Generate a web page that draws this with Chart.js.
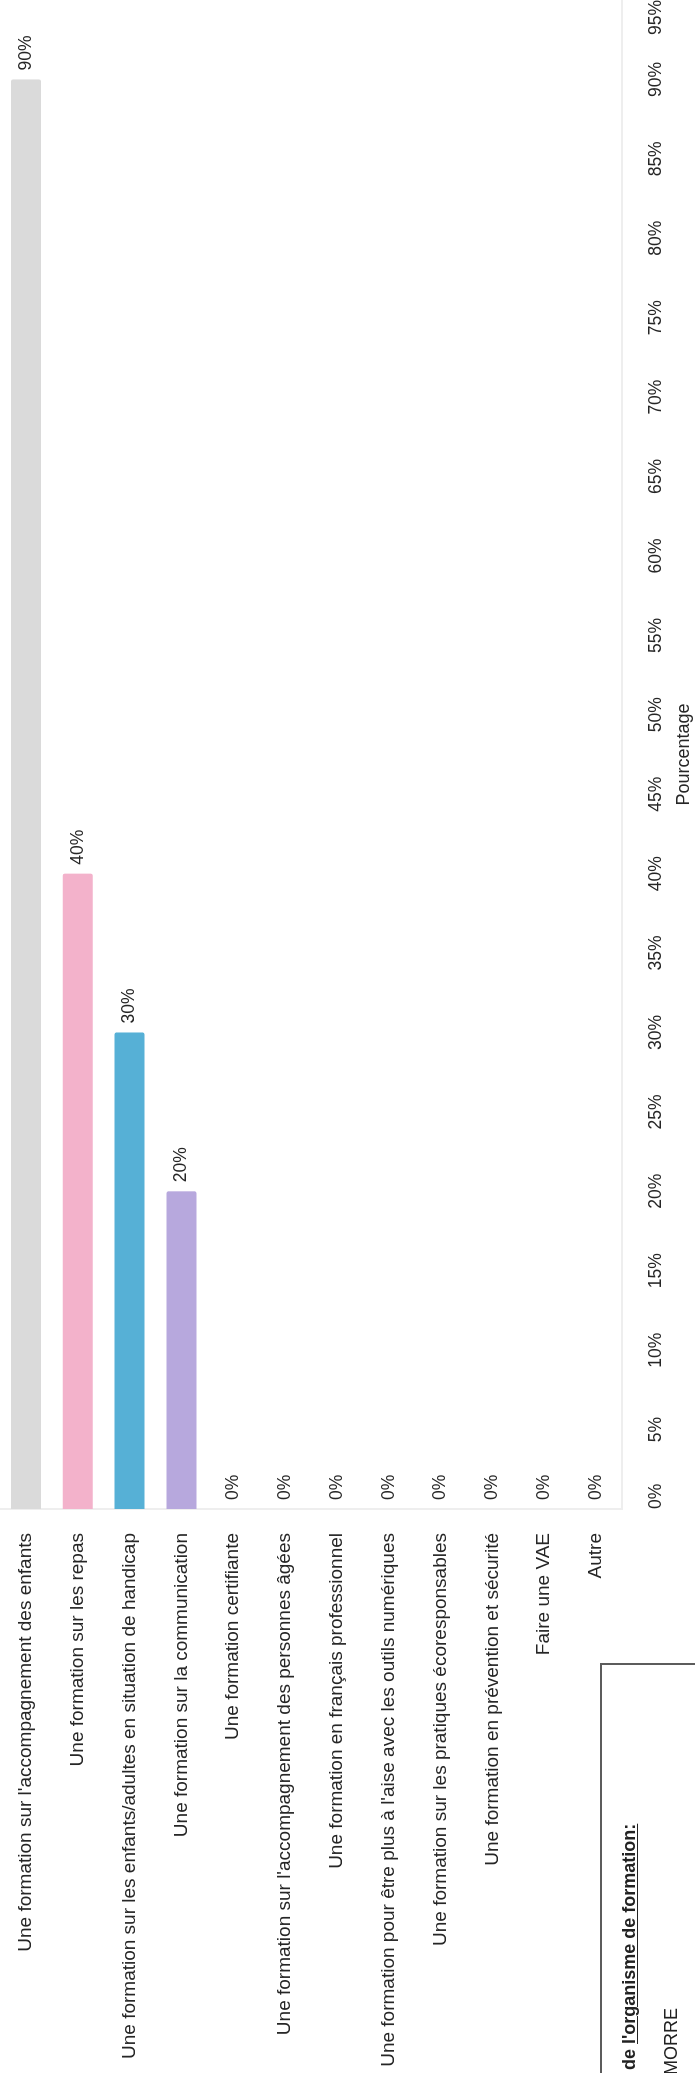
<!DOCTYPE html>
<html lang="fr">
<head>
<meta charset="utf-8">
<title>Formations souhaitées</title>
<script src="https://cdn.jsdelivr.net/npm/chart.js@4.4.1/dist/chart.umd.min.js"></script>
<style>
  html, body { margin: 0; padding: 0; background: #fff; }
  body { width: 695px; height: 2073px; overflow: hidden; position: relative; }
  /* the scanned page is turned a quarter to the left */
  #page {
    position: absolute; left: 0; top: 0; width: 2073px; height: 695px;
    transform-origin: 0 0; transform: translate(0, 2073px) rotate(-90deg);
    font-family: 'Liberation Sans', Arial, sans-serif; color: #222;
  }
  #chart { position: absolute; left: 0; top: 0; }
  .box { position: absolute; left: -10px; top: 600px; width: 416px; height: 140px; border: 2px solid #5c5c5c; }
  .org { position: absolute; left: 3px; top: 620px; font-size: 18px; line-height: 18px; font-weight: bold; white-space: nowrap; }
  .org u { text-decoration-thickness: 1px; text-underline-offset: 2px; }
  .name { position: absolute; left: -2px; top: 662px; font-size: 18px; line-height: 18px; white-space: nowrap; }
</style>
</head>
<body>
<div id="page">
  <canvas id="chart" width="2073" height="695"></canvas>
  <div class="box"></div>
  <div class="org">de <u>l'organisme de formation:</u></div>
  <div class="name">MORRE</div>
</div>
<script>
// Horizontal bar chart — share of answers per requested training

const categories = [
  "Une formation sur l'accompagnement des enfants",
  'Une formation sur les repas',
  'Une formation sur les enfants/adultes en situation de handicap',
  'Une formation sur la communication',
  'Une formation certifiante',
  "Une formation sur l'accompagnement des personnes âgées",
  'Une formation en français professionnel',
  "Une formation pour être plus à l'aise avec les outils numériques",
  'Une formation sur les pratiques écoresponsables',
  'Une formation en prévention et sécurité',
  'Faire une VAE',
  'Autre',
];
const values = [90, 40, 30, 20, 0, 0, 0, 0, 0, 0, 0, 0];
const barColors = ['#dadada', '#f3b2cb', '#56b0d6', '#b7a8dd', '#dadada', '#dadada',
  '#dadada', '#dadada', '#dadada', '#dadada', '#dadada', '#dadada'];
const tickValues = [0, 5, 10, 15, 20, 25, 30, 35, 40, 45, 50, 55, 60, 65, 70, 75, 80, 85, 90, 95];

const FONT = "'Liberation Sans', Arial, sans-serif";
const TEXT = '#262626';

Chart.defaults.font.family = FONT;
Chart.defaults.color = TEXT;

// value written just past the end of each bar
const dataLabels = {
  id: 'dataLabels',
  afterDatasetsDraw(chart) {
    const { ctx } = chart;
    const meta = chart.getDatasetMeta(0);
    ctx.save();
    ctx.font = `17.5px ${FONT}`;
    ctx.fillStyle = TEXT;
    ctx.textAlign = 'left';
    ctx.textBaseline = 'middle';
    meta.data.forEach((bar, i) => {
      ctx.fillText(`${values[i]}%`, bar.x + 9, bar.y);
    });
    ctx.restore();
  },
};

new Chart(document.getElementById('chart').getContext('2d'), {
  type: 'bar',
  data: {
    labels: categories,
    datasets: [{
      data: values,
      backgroundColor: barColors,
      borderRadius: 2,
      borderSkipped: 'start',
      barPercentage: 0.58,
      categoryPercentage: 1,
    }],
  },
  options: {
    indexAxis: 'y',
    responsive: false,
    animation: false,
    devicePixelRatio: 1,
    layout: { padding: 0 },
    plugins: { legend: { display: false }, tooltip: { enabled: false } },
    scales: {
      x: {
        type: 'linear',
        position: 'bottom',
        min: 0,
        max: 95,
        grid: { display: false, drawTicks: false },
        border: { display: true, color: '#eeeeee', width: 2 },
        ticks: {
          padding: 24,
          align: 'inner',
          autoSkip: false,
          maxRotation: 0,
          color: TEXT,
          font: { size: 17.5 },
          callback: (v) => `${v}%`,
        },
        title: { display: true, text: 'Pourcentage', color: TEXT, font: { size: 18 }, padding: 0 },
        afterBuildTicks: (s) => { s.ticks = tickValues.map((v) => ({ value: v })); },
        afterFit: (s) => { s.height = 73; s.paddingLeft = 0; s.paddingRight = 0; },
      },
      y: {
        type: 'category',
        grid: { display: false, drawTicks: false },
        border: { display: true, color: '#eeeeee', width: 2 },
        ticks: { padding: 24, autoSkip: false, color: TEXT, font: { size: 19 } },
        afterFit: (s) => { s.width = 564; s.paddingTop = 0; s.paddingBottom = 0; },
      },
    },
  },
  plugins: [dataLabels],
});
</script>
</body>
</html>
